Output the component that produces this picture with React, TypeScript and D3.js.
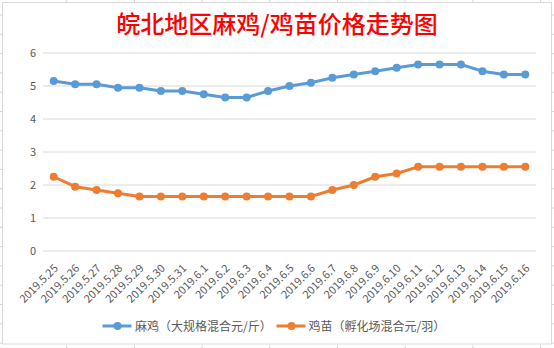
import React from "react";
import * as d3 from "d3";

const categories = ["2019.5.25","2019.5.26","2019.5.27","2019.5.28","2019.5.29","2019.5.30","2019.5.31","2019.6.1","2019.6.2","2019.6.3","2019.6.4","2019.6.5","2019.6.6","2019.6.7","2019.6.8","2019.6.9","2019.6.10","2019.6.11","2019.6.12","2019.6.13","2019.6.14","2019.6.15","2019.6.16"];
const maji = [5.15,5.05,5.05,4.95,4.95,4.85,4.85,4.75,4.65,4.65,4.85,5.0,5.1,5.25,5.35,5.45,5.55,5.65,5.65,5.65,5.45,5.35,5.35];
const jimiao = [2.25,1.95,1.85,1.75,1.65,1.65,1.65,1.65,1.65,1.65,1.65,1.65,1.65,1.85,2.0,2.25,2.35,2.55,2.55,2.55,2.55,2.55,2.55];
const yTicks = [0,1,2,3,4,5,6];
const seriesNames = ["麻鸡（大规格混合元/斤）","鸡苗（孵化场混合元/羽）"];
const title = "皖北地区麻鸡/鸡苗价格走势图";

const W = 554, H = 348;
const font = "'Noto Sans CJK SC', 'Noto Sans', sans-serif";

export default function App() {
  const x = d3.scaleBand<string>().domain(categories).range([43, 536]);
  const y = d3.scaleLinear().domain([0, 6]).range([251, 53]);
  const cx = (c: string) => (x(c) as number) + x.bandwidth() / 2;
  const line = d3.line<number>().x((_, i) => cx(categories[i])).y(d => y(d));
  const series = [
    { name: seriesNames[0], data: maji, color: "#5B9BD5" },
    { name: seriesNames[1], data: jimiao, color: "#ED7D31" },
  ];
  const bgV = d3.range(0, 9).map(i => -1 + i * 67.7);
  const bgH = d3.range(0, 19).map(i => 15 + i * 19.3);
  const legendX = [102.5, 276.5];
  const legendTextX = [135, 308.5];
  return (
    <svg width={W} height={H} style={{ position: "absolute", left: 0, top: 0, background: "#fff" }}>
      {bgH.map((v, i) => (
        <g key={"h" + i}>
          <line x1={0} x2={2} y1={v} y2={v} stroke="#D4D4D4" />
          <line x1={552} x2={554} y1={v} y2={v} stroke="#D4D4D4" />
        </g>
      ))}
      {bgV.map((v, i) => (
        <g key={"v" + i}>
          <line x1={v} x2={v} y1={0} y2={2} stroke="#D4D4D4" />
          <line x1={v} x2={v} y1={345} y2={348} stroke="#D4D4D4" />
        </g>
      ))}
      <rect x={2.5} y={2.5} width={549} height={341.5} fill="#fff" stroke="#D9D9D9" />
      <text x={277} y={33} textAnchor="middle" fill="#FF0000" fontSize={24} fontFamily={font} fontWeight={500}>{title}</text>
      {yTicks.map(t => (
        <g key={t}>
          <line x1={43} x2={536} y1={y(t)} y2={y(t)} stroke="#D9D9D9" strokeWidth={1} />
          <text x={33} y={y(t) + 4} textAnchor="middle" fill="#595959" fontSize={11} fontFamily={font}>{t}</text>
        </g>
      ))}
      {categories.map(c => (
        <text key={c} transform={`translate(${cx(c) + 5},${269}) rotate(-45)`} textAnchor="end" fill="#595959" fontSize={11} fontFamily={font}>{c}</text>
      ))}
      {series.map(s => (
        <g key={s.name}>
          <path d={line(s.data) || ""} fill="none" stroke={s.color} strokeWidth={3} strokeLinejoin="round" />
          {s.data.map((v, i) => (
            <circle key={i} cx={cx(categories[i])} cy={y(v)} r={4} fill={s.color} />
          ))}
        </g>
      ))}
      {series.map((s, i) => (
        <g key={"l" + i}>
          <line x1={legendX[i]} x2={legendX[i] + 29} y1={326} y2={326} stroke={s.color} strokeWidth={3} />
          <circle cx={legendX[i] + 15} cy={326} r={4} fill={s.color} />
          <text x={legendTextX[i]} y={330.5} fill="#595959" fontSize={12} fontFamily={font}>{s.name}</text>
        </g>
      ))}
    </svg>
  );
}
